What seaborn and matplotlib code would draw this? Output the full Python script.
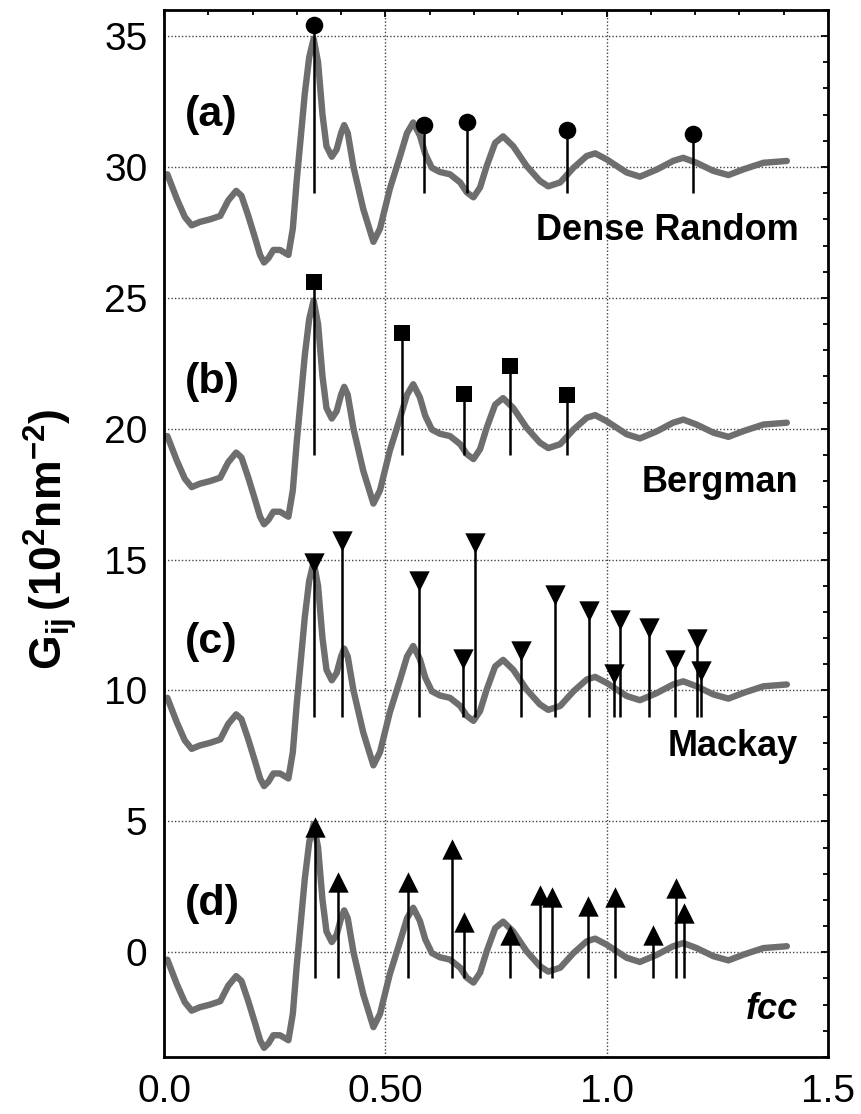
import numpy as np
import pandas as pd
import matplotlib
matplotlib.use("Agg")
import matplotlib.pyplot as plt
from matplotlib.ticker import MultipleLocator, FixedLocator, FixedFormatter
import seaborn as sns

# base curve (panel d, offset 0); the other panels are shifted by 10
curve_x = [0.0075, 0.029, 0.047, 0.0625, 0.081, 0.104, 0.127, 0.145, 0.163, 0.175,
           0.19, 0.206, 0.217, 0.226, 0.236, 0.247, 0.262, 0.281, 0.291, 0.30,
           0.307, 0.318, 0.328, 0.338, 0.348, 0.358, 0.367, 0.379, 0.39, 0.40,
           0.407, 0.415, 0.428, 0.45, 0.473, 0.488, 0.51, 0.533, 0.549, 0.563,
           0.578, 0.59, 0.605, 0.623, 0.646, 0.669, 0.684, 0.699, 0.714, 0.729,
           0.748, 0.766, 0.789, 0.819, 0.849, 0.868, 0.895, 0.925, 0.955, 0.974,
           1.0, 1.045, 1.075, 1.113, 1.15, 1.173, 1.203, 1.241, 1.275, 1.309,
           1.354, 1.407]
curve_y = [-0.28, -1.22, -1.91, -2.23, -2.1, -2.0, -1.87, -1.28, -0.91, -1.1,
           -1.85, -2.73, -3.36, -3.65, -3.48, -3.17, -3.17, -3.36, -2.35, -0.47,
           0.79, 2.8, 4.2, 4.9, 4.0, 2.0, 0.79, 0.39, 0.67, 1.3,
           1.6, 1.3, 0.0, -1.6, -2.86, -2.35, -0.84, 0.4, 1.3, 1.7,
           1.2, 0.5, -0.03, -0.19, -0.28, -0.59, -0.97, -1.16, -0.78, 0.04,
           0.92, 1.17, 0.79, 0.04, -0.53, -0.74, -0.59, -0.03, 0.42, 0.52,
           0.29, -0.21, -0.37, -0.1, 0.23, 0.35, 0.16, -0.15, -0.31, -0.09,
           0.16, 0.23]

offsets = [30, 20, 10, 0]
panel_tags = ["(a)", "(b)", "(c)", "(d)"]
panel_names = ["Dense Random", "Bergman", "Mackay", "fcc"]
markers = ["o", "s", "v", "^"]

# stick positions and heights (absolute, as drawn)
sticks_x = [
    [0.338, 0.588, 0.684, 0.91, 1.196],
    [0.338, 0.538, 0.678, 0.782, 0.91],
    [0.338, 0.403, 0.577, 0.676, 0.702, 0.807, 0.883, 0.961, 1.016, 1.029,
     1.095, 1.155, 1.205, 1.212],
    [0.34, 0.393, 0.552, 0.65, 0.678, 0.782, 0.85, 0.876, 0.958, 1.019,
     1.105, 1.157, 1.175],
]
sticks_y = [
    [35.44, 31.6, 31.73, 31.4, 31.25],
    [25.6, 23.66, 21.34, 22.41, 21.3],
    [14.87, 15.7, 14.19, 11.22, 15.64, 11.5, 13.63, 13.04, 10.64, 12.69,
     12.37, 11.15, 11.96, 10.73],
    [4.78, 2.7, 2.7, 3.94, 1.15, 0.67, 2.2, 2.13, 1.78, 2.13,
     0.67, 2.47, 1.49],
]

tag_y = [2.0, 1.8, 1.86, 1.85]
name_y = [-2.8, -2.4, -2.5, -2.56]

x_ticks = [0.0, 0.5, 1.0, 1.5]
x_ticklabels = ["0.0", "0.50", "1.0", "1.5"]
y_ticks = [0, 5, 10, 15, 20, 25, 30, 35]

sns.set_theme(style="white")
plt.rcParams["font.family"] = ["Liberation Sans", "DejaVu Sans"]
plt.rcParams["mathtext.fontset"] = "custom"
plt.rcParams["mathtext.rm"] = "Liberation Sans"
plt.rcParams["mathtext.bf"] = "Liberation Sans:bold"
plt.rcParams["mathtext.it"] = "Liberation Sans:italic"
plt.rcParams["text.color"] = "black"
plt.rcParams["axes.labelcolor"] = "black"
plt.rcParams["xtick.color"] = "black"
plt.rcParams["ytick.color"] = "black"

fig = plt.figure(figsize=(8.61, 11.14), dpi=100)
ax = fig.add_axes([0.1905, 0.0512, 0.7712, 0.9399])

base = pd.DataFrame({"x": curve_x, "y": curve_y})
marker_sizes = {"o": 160, "s": 135, "v": 215, "^": 215}

for i, off in enumerate(offsets):
    sns.lineplot(x=base["x"], y=base["y"] + off, ax=ax, color="#6e6e6e",
                 linewidth=4.6, solid_joinstyle="round", solid_capstyle="round",
                 zorder=2)
    ax.vlines(sticks_x[i], off - 1, sticks_y[i], color="black", linewidth=1.8, zorder=3)
    sns.scatterplot(x=sticks_x[i], y=sticks_y[i], ax=ax, marker=markers[i],
                    s=marker_sizes[markers[i]], color="black", edgecolor="black",
                    linewidth=0, zorder=4)
    ax.text(0.048, off + tag_y[i], panel_tags[i], fontsize=31, fontweight="bold",
            ha="left", va="center", color="black")
    ax.text(1.433, off + name_y[i], panel_names[i], fontsize=26, fontweight="bold",
            ha="right", va="baseline", color="black",
            style="italic" if i == 3 else "normal")

ax.set_xlim(0, 1.5)
ax.set_ylim(-4, 36)
ax.xaxis.set_major_locator(FixedLocator(x_ticks))
ax.xaxis.set_major_formatter(FixedFormatter(x_ticklabels))
ax.xaxis.set_minor_locator(MultipleLocator(0.1))
ax.yaxis.set_major_locator(FixedLocator(y_ticks))
ax.yaxis.set_minor_locator(MultipleLocator(1))

ax.grid(True, which="major", linestyle=(0, (1, 1.5)), linewidth=1.0, color="#444444")
ax.tick_params(which="both", direction="in", top=True, right=True,
               colors="black", width=1.3)
ax.tick_params(which="major", length=5, labelsize=28, pad=12)
ax.tick_params(which="minor", length=3.5)
for sp in ax.spines.values():
    sp.set_color("black")
    sp.set_linewidth(2)

ax.set_xlabel("")
ax.set_ylabel(r"$\mathbf{G_{ij}\,(10^{2}nm^{-2})}$", fontsize=32)
ax.yaxis.set_label_coords(-0.128, 0.494)

fig.savefig("out.png", dpi=100)
